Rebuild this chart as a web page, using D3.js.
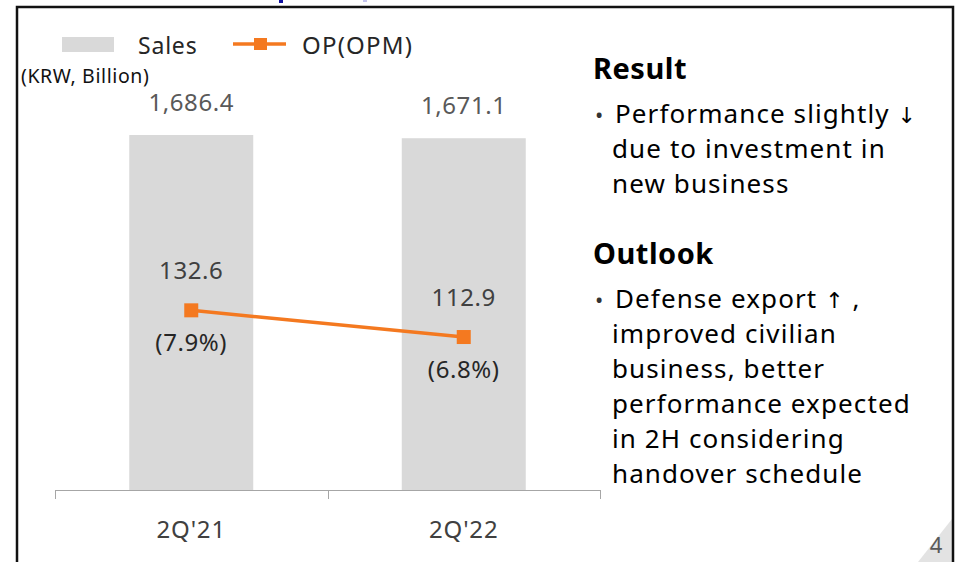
<!DOCTYPE html>
<html lang="en">
<head>
<meta charset="UTF-8">
<title>2Q'22 Sales and OP</title>
<script src="https://d3js.org/d3.v7.min.js"></script>
<style>
  body, html { margin: 0; padding: 0; background: #fff; overflow: hidden; }
  svg { display: block; font-family: 'Noto Sans', sans-serif; }
  .arrow { font-family: 'DejaVu Sans', sans-serif; font-weight: normal; }
</style>
</head>
<body>
<svg id="chart" width="961" height="562"></svg>
<script>
// data
const categories = ["2Q'21", "2Q'22"];
const sales = [1686.4, 1671.1];
const op = [132.6, 112.9];
const opm = [7.9, 6.8];
// text lines; "|" marks where an arrow glyph goes
const resultLines = ["Performance slightly |\u2193", "due to investment in", "new business"];
const outlookLines = ["Defense export |\u2191| ,", "improved civilian", "business, better", "performance expected", "in 2H considering", "handover schedule"];

const svg = d3.select("#chart");
const fmt = d3.format(",.1f");
const orange = "#f47920";

// page number corner (drawn first, under the frame)
svg.append("polygon").attr("points", "918,562 952,519 952,562").attr("fill", "#e3e3e3");
svg.append("text").attr("x", 936).attr("y", 553).attr("text-anchor", "middle")
    .attr("font-size", 22).attr("fill", "#595959").text("4");

// frame of the slide
svg.append("path")
    .attr("d", "M17,570 L17,7 L953,7 L953,570")
    .attr("fill", "none").attr("stroke", "#111").attr("stroke-width", 2.5);
// what is left of the clipped title above the frame
svg.append("rect").attr("x", 279).attr("y", 0).attr("width", 4).attr("height", 3).attr("fill", "#1010a0");
svg.append("rect").attr("x", 363).attr("y", 0).attr("width", 4).attr("height", 2).attr("fill", "#c4c4ee");

// scales
const x = d3.scaleBand().domain(categories).range([55, 600]).padding(0);
const y = d3.scaleLinear().domain([0, 2000]).range([490, 69]);
const y2 = d3.scaleLinear().domain([0, 310.7]).range([490, 69]);
const barW = x.bandwidth() * 0.455;
const cx = d => x(d) + x.bandwidth() / 2;

// bars
svg.selectAll("rect.bar").data(categories).join("rect")
    .attr("class", "bar")
    .attr("x", d => cx(d) - barW / 2)
    .attr("width", barW)
    .attr("y", (d, i) => y(sales[i]))
    .attr("height", (d, i) => y(0) - y(sales[i]))
    .attr("fill", "#d9d9d9");

svg.selectAll("text.sales").data(categories).join("text")
    .attr("class", "sales")
    .attr("x", cx)
    .attr("y", (d, i) => y(sales[i]) - 24)
    .attr("text-anchor", "middle")
    .attr("font-size", 24).attr("letter-spacing", 0.6).attr("fill", "#595959")
    .text((d, i) => fmt(sales[i]));

// category axis
const axisG = svg.append("g").attr("transform", "translate(0,490)");
axisG.append("line").attr("x1", 55).attr("x2", 600).attr("y1", 0.5).attr("y2", 0.5)
    .attr("stroke", "#a6a6a6");
const tickXs = categories.map(d => x(d)).concat([x.range()[1]]);
axisG.selectAll("line.tick").data(tickXs).join("line")
    .attr("class", "tick")
    .attr("x1", d => Math.round(d) + 0.5).attr("x2", d => Math.round(d) + 0.5)
    .attr("y1", 0).attr("y2", 9)
    .attr("stroke", "#a6a6a6");
axisG.selectAll("text").data(categories).join("text")
    .attr("x", cx).attr("y", 48)
    .attr("text-anchor", "middle")
    .attr("font-size", 24).attr("letter-spacing", 0.8).attr("fill", "#404040")
    .text(d => d);

// OP line
const line = d3.line().x((d, i) => cx(categories[i])).y(d => y2(d));
svg.append("path").datum(op)
    .attr("d", line)
    .attr("fill", "none").attr("stroke", orange).attr("stroke-width", 3.5);
svg.selectAll("rect.mark").data(op).join("rect")
    .attr("class", "mark")
    .attr("x", (d, i) => cx(categories[i]) - 7)
    .attr("y", d => y2(d) - 7)
    .attr("width", 14).attr("height", 14)
    .attr("fill", orange);

svg.selectAll("text.op").data(op).join("text")
    .attr("class", "op")
    .attr("x", (d, i) => cx(categories[i]))
    .attr("y", d => y2(d) - 31)
    .attr("text-anchor", "middle")
    .attr("font-size", 24).attr("letter-spacing", 0.6).attr("fill", "#404040")
    .text(d => fmt(d));
svg.selectAll("text.opm").data(opm).join("text")
    .attr("class", "opm")
    .attr("x", (d, i) => cx(categories[i]))
    .attr("y", (d, i) => y2(op[i]) + 41)
    .attr("text-anchor", "middle")
    .attr("font-size", 24).attr("letter-spacing", 0.6).attr("fill", "#262626")
    .text(d => "(" + d.toFixed(1) + "%)");

// legend
svg.append("rect").attr("x", 62).attr("y", 37).attr("width", 52).attr("height", 15).attr("fill", "#d9d9d9");
svg.append("text").attr("x", 138).attr("y", 54).attr("font-size", 23).attr("letter-spacing", 0.8)
    .attr("fill", "#262626").text("Sales");
svg.append("line").attr("x1", 233).attr("x2", 286).attr("y1", 44).attr("y2", 44)
    .attr("stroke", orange).attr("stroke-width", 3.5);
svg.append("rect").attr("x", 254).attr("y", 38).attr("width", 13).attr("height", 12).attr("fill", orange);
svg.append("text").attr("x", 302).attr("y", 54).attr("font-size", 24).attr("letter-spacing", 1.2)
    .attr("fill", "#262626").text("OP(OPM)");
svg.append("text").attr("x", 21).attr("y", 83).attr("font-size", 19.5).attr("letter-spacing", 0.6)
    .attr("fill", "#111").text("(KRW, Billion)");

// commentary on the right
function block(title, lines, top) {
    svg.append("text").attr("x", 593).attr("y", top)
        .attr("font-size", 29).attr("letter-spacing", 0.5).attr("font-weight", "bold")
        .attr("fill", "#000").text(title);
    svg.append("text").attr("x", 595).attr("y", top + 44)
        .attr("font-size", 22).attr("fill", "#333").text("\u2022");
    lines.forEach((t, i) => {
        const tx = svg.append("text")
            .attr("x", i === 0 ? 615 : 612)
            .attr("y", top + 44 + i * 35)
            .attr("font-size", 26).attr("letter-spacing", 1.1).attr("fill", "#000");
        t.split("|").forEach(part => {
            const isArrow = part === "\u2193" || part === "\u2191";
            tx.append("tspan").attr("class", isArrow ? "arrow" : null)
                .attr("font-size", isArrow ? 22 : null)
                .text(part);
        });
    });
}
block("Result", resultLines, 79);
block("Outlook", outlookLines, 264);
</script>
</body>
</html>
